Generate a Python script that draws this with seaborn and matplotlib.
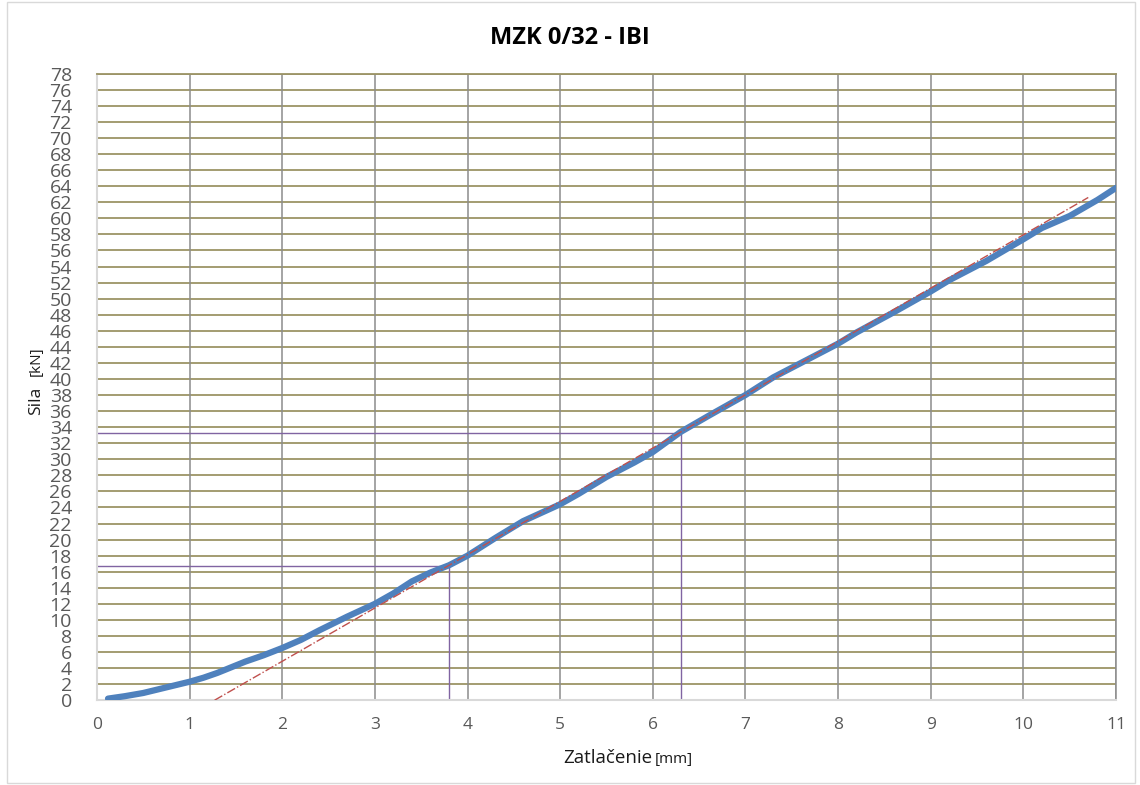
import numpy as np
import pandas as pd
import matplotlib.pyplot as plt
import seaborn as sns
from matplotlib.ticker import MultipleLocator

# ===============================
# Data
# ===============================
zatlacenie = [0.12, 0.3, 0.5, 0.75, 1.0, 1.15, 1.3, 1.45, 1.6, 1.8, 2.0, 2.2, 2.4, 2.7,
              3.0, 3.2, 3.4, 3.6, 3.8, 4.0, 4.3, 4.6, 5.0, 5.2, 5.5, 5.8, 6.0, 6.3,
              6.6, 7.0, 7.3, 7.7, 8.0, 8.2, 8.6, 9.0, 9.2, 9.6, 10.0, 10.2, 10.5, 10.8, 11.0]
sila = [0.2, 0.5, 0.9, 1.6, 2.3, 2.8, 3.4, 4.1, 4.8, 5.6, 6.5, 7.5, 8.7, 10.4,
        12.0, 13.3, 14.8, 15.9, 16.8, 18.0, 20.2, 22.3, 24.4, 25.7, 27.8, 29.6, 30.9, 33.4,
        35.4, 38.0, 40.2, 42.6, 44.4, 45.8, 48.3, 50.9, 52.3, 54.7, 57.4, 58.8, 60.3, 62.3, 63.8]

# tangent line (red dash-dot)
tangent_x = [1.27, 10.7]
tangent_y = [0.0, 62.6]

# read-off points (purple)
odcit_x = [3.80, 6.30]
odcit_y = [16.75, 33.3]

df = pd.DataFrame({"Zatlacenie": zatlacenie, "Sila": sila})

sns.set_style("white")
plt.rcParams["font.family"] = ["Open Sans", "DejaVu Sans"]

fig = plt.figure(figsize=(11.4, 7.85), dpi=100)
ax = fig.add_axes([0.085, 0.108, 0.894, 0.798])

# ===============================
# Grid
# ===============================
for yv in np.arange(2, 79, 2):
    ax.axhline(yv, color="#9c9466", lw=1.3, zorder=0)
for xv in range(1, 12):
    ax.axvline(xv, color="#8c8c8c", lw=1.1, zorder=0)

# purple read-off lines
for xv, yv in zip(odcit_x, odcit_y):
    ax.plot([0, xv], [yv, yv], color="#8064a2", lw=1.0, zorder=2)
    ax.plot([xv, xv], [0, yv], color="#8064a2", lw=1.0, zorder=2)

# measured curve
sns.lineplot(data=df, x="Zatlacenie", y="Sila", ax=ax, color="#4f81bd",
             lw=4.5, zorder=3, solid_capstyle="round")

# tangent
ax.plot(tangent_x, tangent_y, color="#c0504d", lw=1.0, ls="-.", zorder=4)

ax.set_xlim(0, 11)
ax.set_ylim(0, 78)
ax.xaxis.set_major_locator(MultipleLocator(1))
ax.xaxis.set_minor_locator(MultipleLocator(0.5))
ax.yaxis.set_major_locator(MultipleLocator(2))
ax.yaxis.set_minor_locator(MultipleLocator(0.4))

ax.tick_params(axis="x", which="major", length=0, pad=12, labelsize=12.5, labelcolor="#595959")
ax.tick_params(axis="x", which="minor", direction="in", length=5, color="#bfbfbf")
ax.tick_params(axis="y", which="major", direction="in", length=0, pad=18, labelsize=14,
               labelcolor="#595959")
ax.tick_params(axis="y", which="minor", direction="in", length=4, color="#d0d0d0")

for side in ["left", "bottom"]:
    ax.spines[side].set_color("#d9d9d9")
    ax.spines[side].set_linewidth(1.5)
ax.spines["top"].set_color("#9c9466")
ax.spines["top"].set_linewidth(1.3)
ax.spines["right"].set_color("#8c8c8c")
ax.spines["right"].set_linewidth(1.1)

ax.set_xlabel("")
ax.set_ylabel("")

# ===============================
# Titles / labels
# ===============================
fig.text(0.5, 0.951, "MZK 0/32 - IBI", ha="center", va="center", fontsize=17,
         fontweight="bold", color="#000000")
fig.text(0.572, 0.034, "Zatlačenie", ha="right", va="center", fontsize=13.5, color="#1a1a1a")
fig.text(0.574, 0.033, "[mm]", ha="left", va="center", fontsize=11, color="#1a1a1a")
fig.text(0.032, 0.489, "Sila", ha="center", va="center", rotation=90, fontsize=12.5,
         color="#1a1a1a")
fig.text(0.032, 0.540, "[kN]", ha="center", va="center", rotation=90, fontsize=11,
         color="#1a1a1a")

# outer chart border
fig.patches.append(plt.Rectangle((0.006, 0.003), 0.99, 0.994, transform=fig.transFigure,
                                 fill=False, edgecolor="#d9d9d9", lw=1.0))

fig.savefig("out.png", dpi=100)
